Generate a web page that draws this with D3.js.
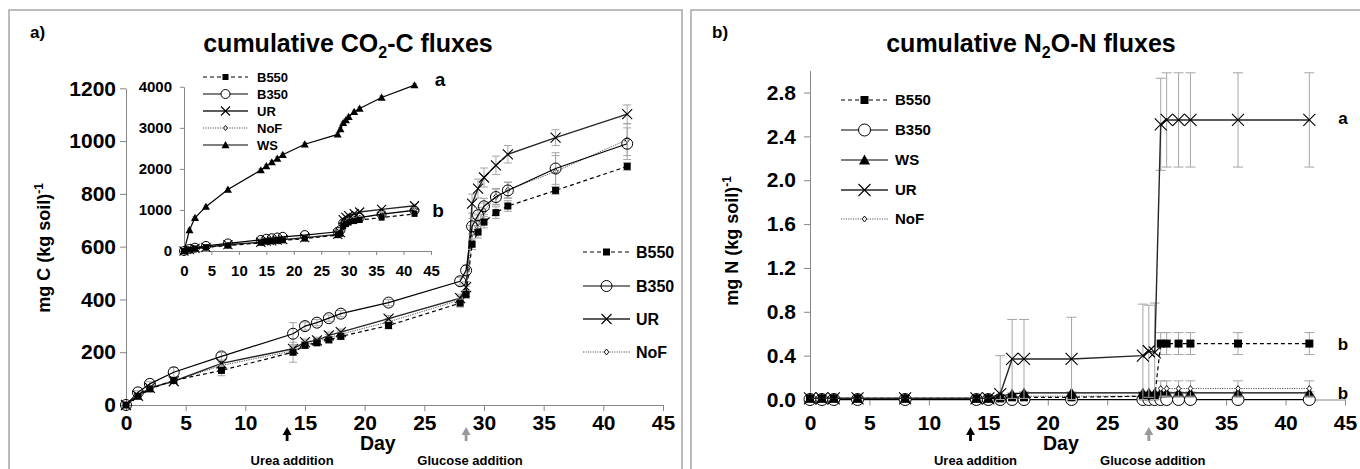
<!DOCTYPE html>
<html><head><meta charset="utf-8">
<script src="https://cdn.jsdelivr.net/npm/d3@7"></script>
<style>html,body{margin:0;padding:0;background:#fff;}svg{display:block;}</style>
</head><body>
<svg id="chart" width="1360" height="469"></svg>
<script>
// ---------- DATA ----------
const days = [0,1,2,4,8,14,15,16,17,18,22,28,28.5,29,29.5,30,31,32,36,42];
const xTicks = [0,5,10,15,20,25,30,35,40,45];
const co2Ticks = [0,200,400,600,800,1000,1200];
const insetTicks = [0,1000,2000,3000,4000];
const n2oTicks = [0,0.4,0.8,1.2,1.6,2.0,2.4,2.8];

// cumulative CO2-C, mg C (kg soil)-1
const co2B550 = [0,33,61,93,131,200,226,236,247,260,301,386,419,609,655,693,729,754,813,904];
const co2B350 = [0,48,80,124,184,270,299,312,329,346,388,469,510,677,719,753,788,813,896,990];
const co2UR   = [0,35,65,90,158,213,238,245,264,276,327,405,447,763,820,862,908,950,1013,1102];
const co2NoF  = [0,38,62,90,150,205,228,240,255,268,315,398,430,650,690,735,790,815,885,1005];
const co2WS   = [0,510,810,1080,1500,1970,2070,2165,2255,2345,2600,2840,2970,3120,3190,3270,3390,3470,3740,4040];
const co2ErrB550 = [0,4,6,8,20,38,12,12,12,12,12,15,15,20,22,22,22,20,15,15];
const co2ErrB350 = [0,6,8,18,15,42,15,12,12,12,12,15,20,30,30,30,30,30,60,60];
const co2ErrUR   = [0,6,6,8,12,15,12,12,12,12,12,15,20,36,36,36,35,33,30,35];
const co2ErrNoF  = [0,5,6,8,12,15,12,12,12,12,12,15,20,30,30,30,30,30,60,60];
const co2ErrWS   = [0,30,30,30,30,40,40,40,40,40,40,40,40,40,40,40,40,40,40,40];

// cumulative N2O-N, mg N (kg soil)-1
const n2oB550 = [0.01,0.01,0.01,0.01,0.01,0.01,0.01,0.01,0.02,0.02,0.02,0.03,0.03,0.03,0.51,0.51,0.51,0.51,0.51,0.51];
const n2oB350 = [0,0,0,0,0,0,0,0,0,0,0,0,0,0,0,0,0,0,0,0];
const n2oWS   = [0.01,0.01,0.01,0.01,0.01,0.01,0.01,0.03,0.05,0.06,0.06,0.06,0.06,0.06,0.06,0.06,0.06,0.06,0.06,0.06];
const n2oUR   = [0.01,0.01,0.01,0.01,0.01,0.01,0.01,0.05,0.37,0.37,0.37,0.40,0.44,0.43,2.51,2.55,2.55,2.55,2.55,2.55];
const n2oNoF  = [0.01,0.01,0.01,0.01,0.01,0.01,0.01,0.01,0.02,0.03,0.03,0.03,0.03,0.04,0.10,0.10,0.10,0.10,0.10,0.10];
const n2oErrB550 = [0,0,0,0,0,0,0,0,0,0,0,0,0,0,0.10,0.10,0.10,0.10,0.10,0.10];
const n2oErrB350 = [0,0,0,0,0,0,0,0,0,0,0,0,0,0,0,0,0,0,0,0];
const n2oErrWS   = [0,0,0,0,0,0,0,0.01,0.01,0.01,0.01,0.01,0.01,0.01,0.01,0.01,0.01,0.01,0.01,0.01];
const n2oErrUR   = [0,0,0,0,0,0,0,0.35,0.36,0.36,0.38,0.47,0.42,0.45,0.42,0.43,0.43,0.43,0.43,0.43];
const n2oErrNoF  = [0,0,0,0,0,0,0,0,0,0,0,0,0,0,0.07,0.07,0.07,0.07,0.07,0.07];

const ureaDay = 13.5, glucoseDay = 28.5;

// ---------- STYLE ----------
const FONT = '"Liberation Sans", Arial, sans-serif';
const AXC = '#868686', ERRC = '#a6a6a6';
const TICKFS = 21;
const styles = {
  B550: {marker:'square', dash:'4,3', color:'#000', width:1.2},
  B350: {marker:'circle', dash:null, color:'#000', width:1.2},
  UR:   {marker:'x', dash:null, color:'#262626', width:1.4},
  NoF:  {marker:'diamond', dash:'1.2,1.2', color:'#555', width:1},
  WS:   {marker:'triangle', dash:null, color:'#000', width:1.2}
};

const svg = d3.select('#chart');

function drawMarker(g, type, cx, cy, s, fillCircle){
  if(type==='square'){
    g.append('rect').attr('x',cx-s/2).attr('y',cy-s/2).attr('width',s).attr('height',s).attr('fill','#000');
  } else if(type==='circle'){
    g.append('circle').attr('cx',cx).attr('cy',cy).attr('r',s/2).attr('fill',fillCircle||'none').attr('stroke','#000').attr('stroke-width',1);
  } else if(type==='x'){
    const h=s/2;
    g.append('path').attr('d',`M${cx-h},${cy-h}L${cx+h},${cy+h}M${cx-h},${cy+h}L${cx+h},${cy-h}`).attr('stroke','#000').attr('stroke-width',1.1).attr('fill','none');
  } else if(type==='diamond'){
    const h=s/2;
    g.append('path').attr('d',`M${cx},${cy-h}L${cx+h*0.75},${cy}L${cx},${cy+h}L${cx-h*0.75},${cy}Z`).attr('fill','#fff').attr('stroke','#000').attr('stroke-width',0.9);
  } else if(type==='triangle'){
    const h=s/2;
    g.append('path').attr('d',`M${cx},${cy-h}L${cx+h},${cy+h*0.8}L${cx-h},${cy+h*0.8}Z`).attr('fill','#000');
  }
}

function styleAxis(g, fs){
  g.attr('font-size',fs).attr('font-family',FONT).attr('font-weight','bold');
  g.select('.domain').attr('stroke',AXC).attr('stroke-width',1);
  g.selectAll('.tick line').attr('stroke',AXC);
  g.selectAll('.tick text').attr('fill','#000');
}

function drawSeries(g, x, y, vals, errs, st, msize, capW, circleFill){
  const pts = days.map((d,i)=>({d, v:vals[i], e:errs[i]}));
  const eg = g.append('g');
  pts.forEach(p=>{
    if(p.e>0){
      const x0=x(p.d), y1=y(p.v+p.e), y2=y(Math.max(0,p.v-p.e));
      eg.append('path').attr('d',`M${x0},${y1}L${x0},${y2}M${x0-capW/2},${y1}L${x0+capW/2},${y1}M${x0-capW/2},${y2}L${x0+capW/2},${y2}`)
        .attr('stroke',ERRC).attr('stroke-width',1).attr('fill','none');
    }
  });
  const line = d3.line().x(p=>x(p.d)).y(p=>y(p.v));
  g.append('path').datum(pts).attr('d',line).attr('fill','none').attr('stroke',st.color)
    .attr('stroke-width',st.width).attr('stroke-dasharray',st.dash);
  const mg = g.append('g');
  pts.forEach(p=>drawMarker(mg, st.marker, x(p.d), y(p.v), msize[st.marker], circleFill));
}

function legend(g, items, x0, x1, lx, ys, fs, msize, circleFill){
  items.forEach((name,i)=>{
    const st=styles[name], yy=ys[i];
    g.append('line').attr('x1',x0).attr('x2',x1).attr('y1',yy).attr('y2',yy)
      .attr('stroke',st.color).attr('stroke-width',st.width).attr('stroke-dasharray',st.dash);
    drawMarker(g, st.marker, (x0+x1)/2, yy, msize[st.marker], circleFill||'#fff');
    g.append('text').attr('x',lx).attr('y',yy).attr('dy','0.35em').text(name)
      .attr('font-family',FONT).attr('font-weight','bold').attr('font-size',fs);
  });
}

function txt(g, x, y, s, fs, anchor){
  return g.append('text').attr('x',x).attr('y',y).text(s).attr('font-family',FONT)
    .attr('font-weight','bold').attr('font-size',fs).attr('text-anchor',anchor||'start');
}

function title(g, cx, y, pre, sub, post){
  const t=g.append('text').attr('x',cx).attr('y',y).attr('text-anchor','middle')
    .attr('font-family',FONT).attr('font-weight','bold').attr('font-size',25);
  t.append('tspan').text(pre);
  t.append('tspan').text(sub).attr('font-size',16).attr('dy',6);
  t.append('tspan').text(post).attr('dy',-6);
}

function ylabel(g, cx, cy, s){
  const t=g.append('text').attr('transform',`translate(${cx},${cy}) rotate(-90)`).attr('text-anchor','middle')
    .attr('font-family',FONT).attr('font-weight','bold').attr('font-size',18);
  t.append('tspan').text(s);
  t.append('tspan').text('-1').attr('font-size',12).attr('dy',-7);
}

function annotations(g, x){
  [[ureaDay,'#000','Urea addition',5],[glucoseDay,'#999','Glucose addition',4]].forEach(([d,c,s,off])=>{
    const ax=x(d);
    g.append('path').attr('d',`M${ax},427L${ax+4.5},435L${ax+1.4},435L${ax+1.4},441L${ax-1.4},441L${ax-1.4},435L${ax-4.5},435Z`).attr('fill',c);
    txt(g, ax+off, 465, s, 13, 'middle');
  });
  txt(g, x(21.1), 450, 'Day', 19.5, 'middle');
}

// ---------- PANEL BORDERS ----------
svg.append('rect').attr('x',9).attr('y',10).attr('width',673).attr('height',470).attr('fill','#fff').attr('stroke','#a6a6a6').attr('stroke-width',1.5);
svg.append('rect').attr('x',691).attr('y',10).attr('width',680).attr('height',470).attr('fill','#fff').attr('stroke','#a6a6a6').attr('stroke-width',1.5);

// ---------- LEFT: CO2 ----------
{
  const g = svg.append('g');
  const x = d3.scaleLinear().domain([0,45]).range([126,663]);
  const y = d3.scaleLinear().domain([0,1200]).range([405,88.3]);
  const ax = g.append('g').attr('transform','translate(0,405)').call(d3.axisBottom(x).tickValues(xTicks).tickSize(6).tickSizeOuter(0).tickFormat(d3.format('d')));
  styleAxis(ax,TICKFS); ax.selectAll('.tick text').attr('y',25).attr('dy',null);
  const ay = g.append('g').attr('transform','translate(126,0)').call(d3.axisLeft(y).tickValues(co2Ticks).tickSize(6).tickPadding(4).tickSizeOuter(0).tickFormat(d3.format('d')));
  styleAxis(ay,TICKFS);

  const ms = {square:7, circle:11, x:10, diamond:6, triangle:9};
  drawSeries(g,x,y,co2NoF,co2ErrNoF,styles.NoF,ms,8);
  drawSeries(g,x,y,co2UR,co2ErrUR,styles.UR,ms,8);
  drawSeries(g,x,y,co2B350,co2ErrB350,styles.B350,ms,8);
  drawSeries(g,x,y,co2B550,co2ErrB550,styles.B550,ms,8);

  legend(g,['B550','B350','UR','NoF'],583,630,636,[252,286,319,352],16,ms,'none');

  txt(g,30,38,'a)',17);
  title(g,348,52,'cumulative CO','2','-C fluxes');
  ylabel(g,50,248,'mg C (kg soil)');
  annotations(g,x);

  // inset
  const xi = d3.scaleLinear().domain([0,45]).range([184,431]);
  const yi = d3.scaleLinear().domain([0,4000]).range([251,86.8]);
  const axi = g.append('g').attr('transform','translate(0,251)').call(d3.axisBottom(xi).tickValues(xTicks).tickSize(4).tickSizeOuter(0).tickFormat(d3.format('d')));
  styleAxis(axi,15); axi.selectAll('.tick text').attr('y',25).attr('dy',null);
  const ayi = g.append('g').attr('transform','translate(184,0)').call(d3.axisLeft(yi).tickValues(insetTicks).tickSize(4).tickPadding(8).tickSizeOuter(0).tickFormat(d3.format('d')));
  styleAxis(ayi,15);
  const msi = {square:6, circle:9, x:9, diamond:5, triangle:8};
  drawSeries(g,xi,yi,co2NoF,co2ErrNoF,styles.NoF,msi,5);
  drawSeries(g,xi,yi,co2UR,co2ErrUR,styles.UR,msi,5);
  drawSeries(g,xi,yi,co2B350,co2ErrB350,styles.B350,msi,5);
  drawSeries(g,xi,yi,co2B550,co2ErrB550,styles.B550,msi,5);
  drawSeries(g,xi,yi,co2WS,co2ErrWS,styles.WS,msi,5);
  legend(g,['B550','B350','UR','NoF','WS'],203,248,257,[77,94,111,128,145],13,msi,'#fff');
  txt(g,440,86,'a',19,'middle');
  txt(g,438,217,'b',19,'middle');
}

// ---------- RIGHT: N2O ----------
{
  const g = svg.append('g');
  const x = d3.scaleLinear().domain([0,45]).range([810,1345]);
  const y = d3.scaleLinear().domain([0,3]).range([399.5,70.6]);
  const ax = g.append('g').attr('transform','translate(0,399.5)').call(d3.axisBottom(x).tickValues(xTicks).tickSize(6).tickSizeOuter(0).tickFormat(d3.format('d')));
  styleAxis(ax,TICKFS); ax.selectAll('.tick text').attr('y',30.5).attr('dy',null);
  const ay = g.append('g').attr('transform','translate(810,0)').call(d3.axisLeft(y).tickValues(n2oTicks).tickSize(6).tickPadding(8).tickSizeOuter(0).tickFormat(d3.format('.1f')));
  styleAxis(ay,TICKFS);

  const ms = {square:8, circle:12, x:12, diamond:6, triangle:11};
  drawSeries(g,x,y,n2oB350,n2oErrB350,styles.B350,ms,10,'#fff');
  drawSeries(g,x,y,n2oWS,n2oErrWS,styles.WS,ms,10);
  drawSeries(g,x,y,n2oNoF,n2oErrNoF,styles.NoF,ms,10);
  drawSeries(g,x,y,n2oB550,n2oErrB550,styles.B550,ms,10);
  drawSeries(g,x,y,n2oUR,n2oErrUR,styles.UR,ms,10);

  legend(g,['B550','B350','WS','UR','NoF'],841,888,895,[100,130,160,190,219],15,ms,'#fff');

  txt(g,712,38,'b)',17);
  title(g,1031,52,'cumulative N','2','O-N fluxes');
  ylabel(g,738,241,'mg N (kg soil)');
  annotations(g,x);
  txt(g,1343,124,'a',17,'middle');
  txt(g,1343,350,'b',17,'middle');
  txt(g,1343,399,'b',17,'middle');
}
</script>
</body></html>
